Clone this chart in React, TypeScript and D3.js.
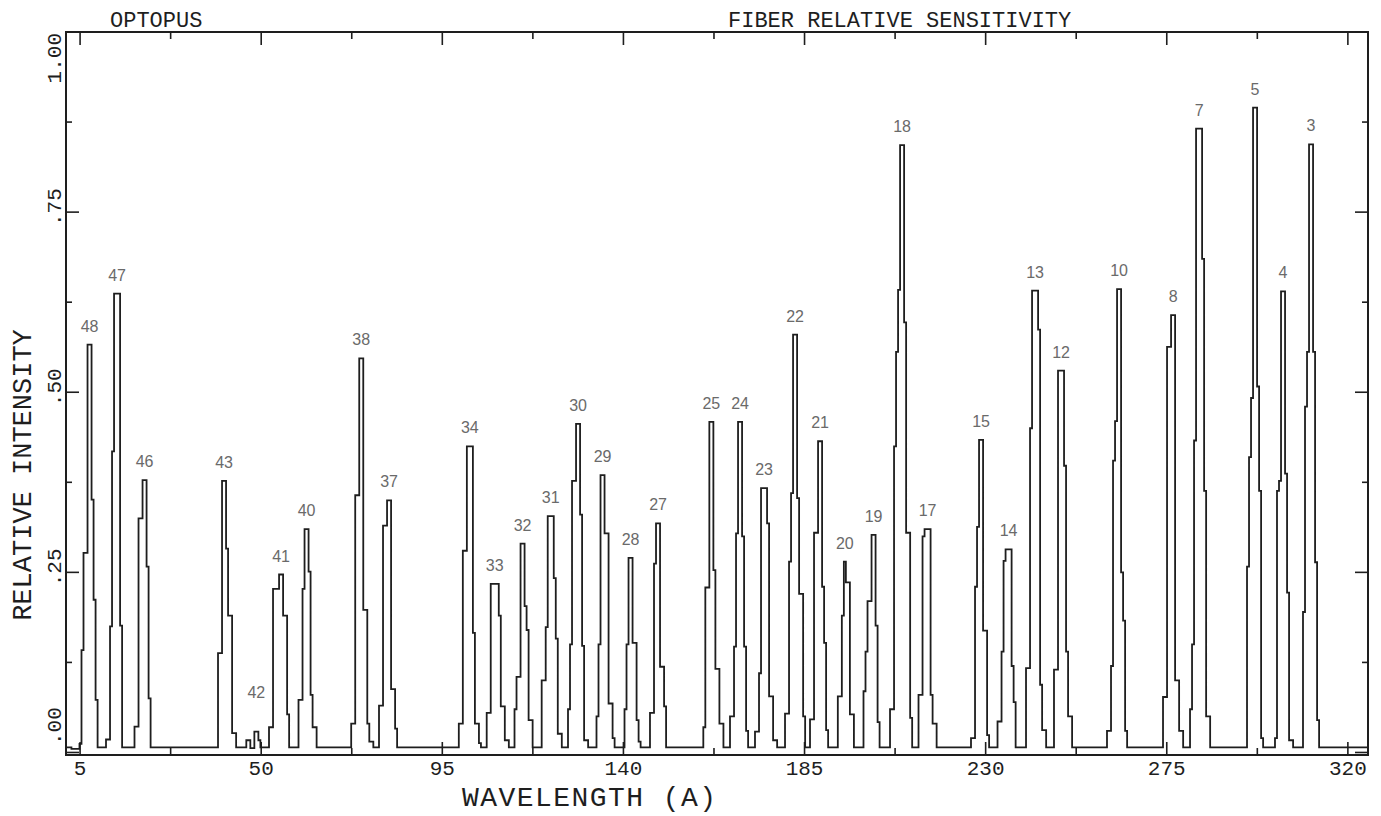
import React from "react";
import * as d3 from "d3";

// ---------- data ----------
const STEP = 0.5; // sampling interval of the trace (A)
const BASE = 0.007; // flat baseline between fibre peaks

const FIBERS = [
  "48", "47", "46", "43", "42", "41", "40", "38", "37", "34", "33", "32", "31", "30", "29", "28", "27",
  "25", "24", "23", "22", "21", "20", "19", "18", "17", "15", "14", "13", "12", "10", "8", "7", "5", "4", "3",
];

const PEAK_START = [
  2.85, 11.44, 18.52, 39.27, 46.3, 51.94, 59.27, 72.36, 79.27, 99.1, 106.03, 112.94, 119.69, 126.23, 133.31,
  140.27, 146.6, 159.85, 166.48, 172.69, 180.15, 186.36, 193.27, 199.65, 206.24, 213.32, 226.36, 232.95,
  240.03, 246.98, 260.15, 274.07, 280.78, 294.94, 301.89, 308.85,
];

const PEAK_SAMPLES: number[][] = [
  [0.005, 0.005, 0.005, 0.005, 0.012, 0.142, 0.277, 0.277, 0.566, 0.566, 0.351, 0.212, 0.073],
  [0.018, 0.018, 0.175, 0.418, 0.637, 0.637, 0.637, 0.176],
  [0.036, 0.036, 0.325, 0.325, 0.378, 0.378, 0.258, 0.075],
  [0.138, 0.138, 0.377, 0.377, 0.283, 0.19, 0.19, 0.027, 0.027],
  [0.017, 0.017, 0.006, 0.006, 0.029, 0.029, 0.017],
  [0.035, 0.035, 0.227, 0.227, 0.227, 0.247, 0.247, 0.19, 0.19, 0.053],
  [0.073, 0.073, 0.227, 0.31, 0.31, 0.251, 0.08, 0.035, 0.035],
  [0.04, 0.04, 0.357, 0.357, 0.547, 0.547, 0.198, 0.198, 0.04, 0.015, 0.015],
  [0.065, 0.065, 0.315, 0.315, 0.35, 0.35, 0.088, 0.088, 0.033],
  [0.04, 0.04, 0.28, 0.28, 0.425, 0.425, 0.425, 0.166, 0.04, 0.04, 0.013],
  [0.055, 0.055, 0.234, 0.234, 0.234, 0.234, 0.19, 0.064, 0.064, 0.017, 0.017],
  [0.06, 0.105, 0.105, 0.29, 0.29, 0.203, 0.17, 0.045, 0.045],
  [0.1, 0.1, 0.174, 0.328, 0.328, 0.328, 0.242, 0.158, 0.026, 0.026],
  [0.06, 0.15, 0.377, 0.377, 0.456, 0.456, 0.33, 0.148, 0.017, 0.017],
  [0.05, 0.15, 0.385, 0.385, 0.304, 0.304, 0.068, 0.068, 0.02],
  [0.06, 0.15, 0.27, 0.27, 0.152, 0.152, 0.045, 0.015],
  [0.055, 0.055, 0.262, 0.318, 0.318, 0.119, 0.119, 0.064],
  [0.035, 0.229, 0.229, 0.459, 0.459, 0.253, 0.116, 0.116, 0.04, 0.04],
  [0.05, 0.05, 0.147, 0.304, 0.459, 0.459, 0.3, 0.147, 0.03],
  [0.029, 0.029, 0.11, 0.367, 0.367, 0.367, 0.318, 0.078, 0.078, 0.017, 0.017],
  [0.054, 0.054, 0.265, 0.36, 0.58, 0.58, 0.353, 0.22, 0.22, 0.05],
  [0.046, 0.046, 0.305, 0.305, 0.432, 0.432, 0.23, 0.152, 0.031],
  [0.078, 0.078, 0.19, 0.265, 0.236, 0.236, 0.053, 0.053],
  [0.085, 0.14, 0.21, 0.21, 0.302, 0.302, 0.176, 0.042],
  [0.06, 0.06, 0.425, 0.556, 0.642, 0.843, 0.843, 0.597, 0.305, 0.305, 0.048],
  [0.08, 0.08, 0.3, 0.31, 0.31, 0.31, 0.08, 0.04, 0.04],
  [0.02, 0.02, 0.23, 0.313, 0.434, 0.434, 0.169, 0.169, 0.024],
  [0.043, 0.043, 0.14, 0.266, 0.282, 0.282, 0.282, 0.12, 0.07],
  [0.117, 0.117, 0.45, 0.641, 0.641, 0.641, 0.587, 0.094, 0.031, 0.031],
  [0.115, 0.115, 0.53, 0.53, 0.53, 0.398, 0.14, 0.05, 0.05],
  [0.03, 0.03, 0.12, 0.405, 0.46, 0.643, 0.643, 0.25, 0.183, 0.03],
  [0.077, 0.077, 0.563, 0.563, 0.607, 0.607, 0.1, 0.1, 0.03, 0.03],
  [0.06, 0.15, 0.433, 0.866, 0.866, 0.866, 0.685, 0.363, 0.05, 0.05],
  [0.258, 0.41, 0.492, 0.895, 0.895, 0.508, 0.363, 0.02],
  [0.02, 0.363, 0.377, 0.64, 0.64, 0.387, 0.222, 0.017, 0.017],
  [0.195, 0.48, 0.556, 0.844, 0.844, 0.556, 0.264, 0.045],
];

const X_DOMAIN = [1.5, 325];
const Y_DOMAIN = [-0.0035, 1.0];
const X_TICKS = d3.range(5, 321, 22.5);
const X_TICK_LABELS = [5, 50, 95, 140, 185, 230, 275, 320];
const Y_TICKS = d3.range(0, 1.0001, 0.125);
const Y_TICK_VALUES = [0, 0.25, 0.5, 0.75, 1.0];
const Y_TICK_LABELS = [".00", ".25", ".50", ".75", "1.00"];

const TITLE_LEFT = "OPTOPUS";
const TITLE_RIGHT = "FIBER RELATIVE SENSITIVITY";
const X_TITLE = "WAVELENGTH (A)";
const Y_TITLE = "RELATIVE INTENSITY";

// ---------- layout ----------
const W = 1381;
const H = 816;
const L = 66, R = 1368, T = 32, B = 755;
const INK = "#1e1e1e";
const MONO = "'Liberation Mono', 'DejaVu Sans Mono', monospace";
const SANS = "'Liberation Sans', Arial, sans-serif";

export default function App() {
  const x = d3.scaleLinear().domain(X_DOMAIN).range([L, R]);
  const y = d3.scaleLinear().domain(Y_DOMAIN).range([B, T]);

  // build the step trace
  const pts: [number, number][] = [[X_DOMAIN[0], BASE]];
  PEAK_SAMPLES.forEach((vals, i) => {
    const s = PEAK_START[i];
    vals.forEach((v, j) => pts.push([s + j * STEP, v]));
    pts.push([s + vals.length * STEP, BASE]);
  });
  pts.push([X_DOMAIN[1], BASE]);

  const line = d3
    .line<[number, number]>()
    .x((d) => x(d[0]))
    .y((d) => y(d[1]))
    .curve(d3.curveStepAfter);

  const labels = PEAK_SAMPLES.map((vals, i) => {
    const m = d3.max(vals) as number;
    const first = vals.indexOf(m);
    const last = vals.lastIndexOf(m);
    const cx = PEAK_START[i] + ((first + last + 1) / 2) * STEP;
    return { text: FIBERS[i], x: x(cx), y: Math.min(y(m) - 13, y(0.075)) };
  });

  const majorX = (v: number) => X_TICK_LABELS.some((t) => Math.abs(t - v) < 1e-6);
  const majorY = (v: number) => Y_TICK_VALUES.some((t) => Math.abs(t - v) < 1e-6);

  return (
    <svg
      width={W}
      height={H}
      viewBox={`0 0 ${W} ${H}`}
      style={{ position: "fixed", left: 0, top: 0, background: "#fff" }}
    >
      <rect x={0} y={0} width={W} height={H} fill="#fff" />

      {/* titles */}
      <text x={110} y={27} fontFamily={MONO} fontSize={22} fill={INK}>
        {TITLE_LEFT}
      </text>
      <text x={728} y={27} fontFamily={MONO} fontSize={22} fill={INK}>
        {TITLE_RIGHT}
      </text>

      {/* frame */}
      <rect x={L} y={T} width={R - L} height={B - T} fill="none" stroke={INK} strokeWidth={2} />

      {/* x ticks, top and bottom, pointing inward */}
      {X_TICKS.map((v) => {
        const len = majorX(v) ? 13 : 7;
        return (
          <g key={"xt" + v}>
            <line x1={x(v)} x2={x(v)} y1={B} y2={B - len} stroke={INK} strokeWidth={1.6} />
            <line x1={x(v)} x2={x(v)} y1={T} y2={T + len} stroke={INK} strokeWidth={1.6} />
          </g>
        );
      })}
      {X_TICK_LABELS.map((v) => (
        <text key={"xl" + v} x={x(v)} y={775} textAnchor="middle" fontFamily={MONO} fontSize={21} fill={INK}>
          {v}
        </text>
      ))}

      {/* y ticks, left and right */}
      {Y_TICKS.map((v) => {
        const len = majorY(v) ? 13 : 6;
        return (
          <g key={"yt" + v}>
            <line x1={L} x2={L + len} y1={y(v)} y2={y(v)} stroke={INK} strokeWidth={1.6} />
            <line x1={R} x2={R - len} y1={y(v)} y2={y(v)} stroke={INK} strokeWidth={1.6} />
          </g>
        );
      })}
      {Y_TICK_VALUES.map((v, i) => {
        const half = Y_TICK_LABELS[i].length * 6.3;
        let cy = y(v) - 5;
        cy = Math.max(cy, T + half + 1);
        cy = Math.min(cy, B - 10 - half);
        return (
          <text
            key={"yl" + v}
            x={61}
            y={cy}
            transform={`rotate(-90 61 ${cy})`}
            textAnchor="middle"
            fontFamily={MONO}
            fontSize={21}
            fill={INK}
          >
            {Y_TICK_LABELS[i]}
          </text>
        );
      })}

      {/* axis titles */}
      <text
        x={589}
        y={806}
        textAnchor="middle"
        fontFamily={MONO}
        fontSize={28}
        textLength={254}
        lengthAdjust="spacing"
        fill={INK}
      >
        {X_TITLE}
      </text>
      <text
        x={31}
        y={475}
        transform="rotate(-90 31 475)"
        textAnchor="middle"
        fontFamily={MONO}
        fontSize={27}
        fill={INK}
      >
        {Y_TITLE}
      </text>

      {/* trace */}
      <path d={line(pts) as string} fill="none" stroke={INK} strokeWidth={1.8} strokeLinejoin="miter" />

      {/* fibre labels */}
      {labels.map((l, i) => (
        <text key={"pl" + i} x={l.x} y={l.y} textAnchor="middle" fontFamily={SANS} fontSize={16} fill="#6a6a6a">
          {l.text}
        </text>
      ))}
    </svg>
  );
}
